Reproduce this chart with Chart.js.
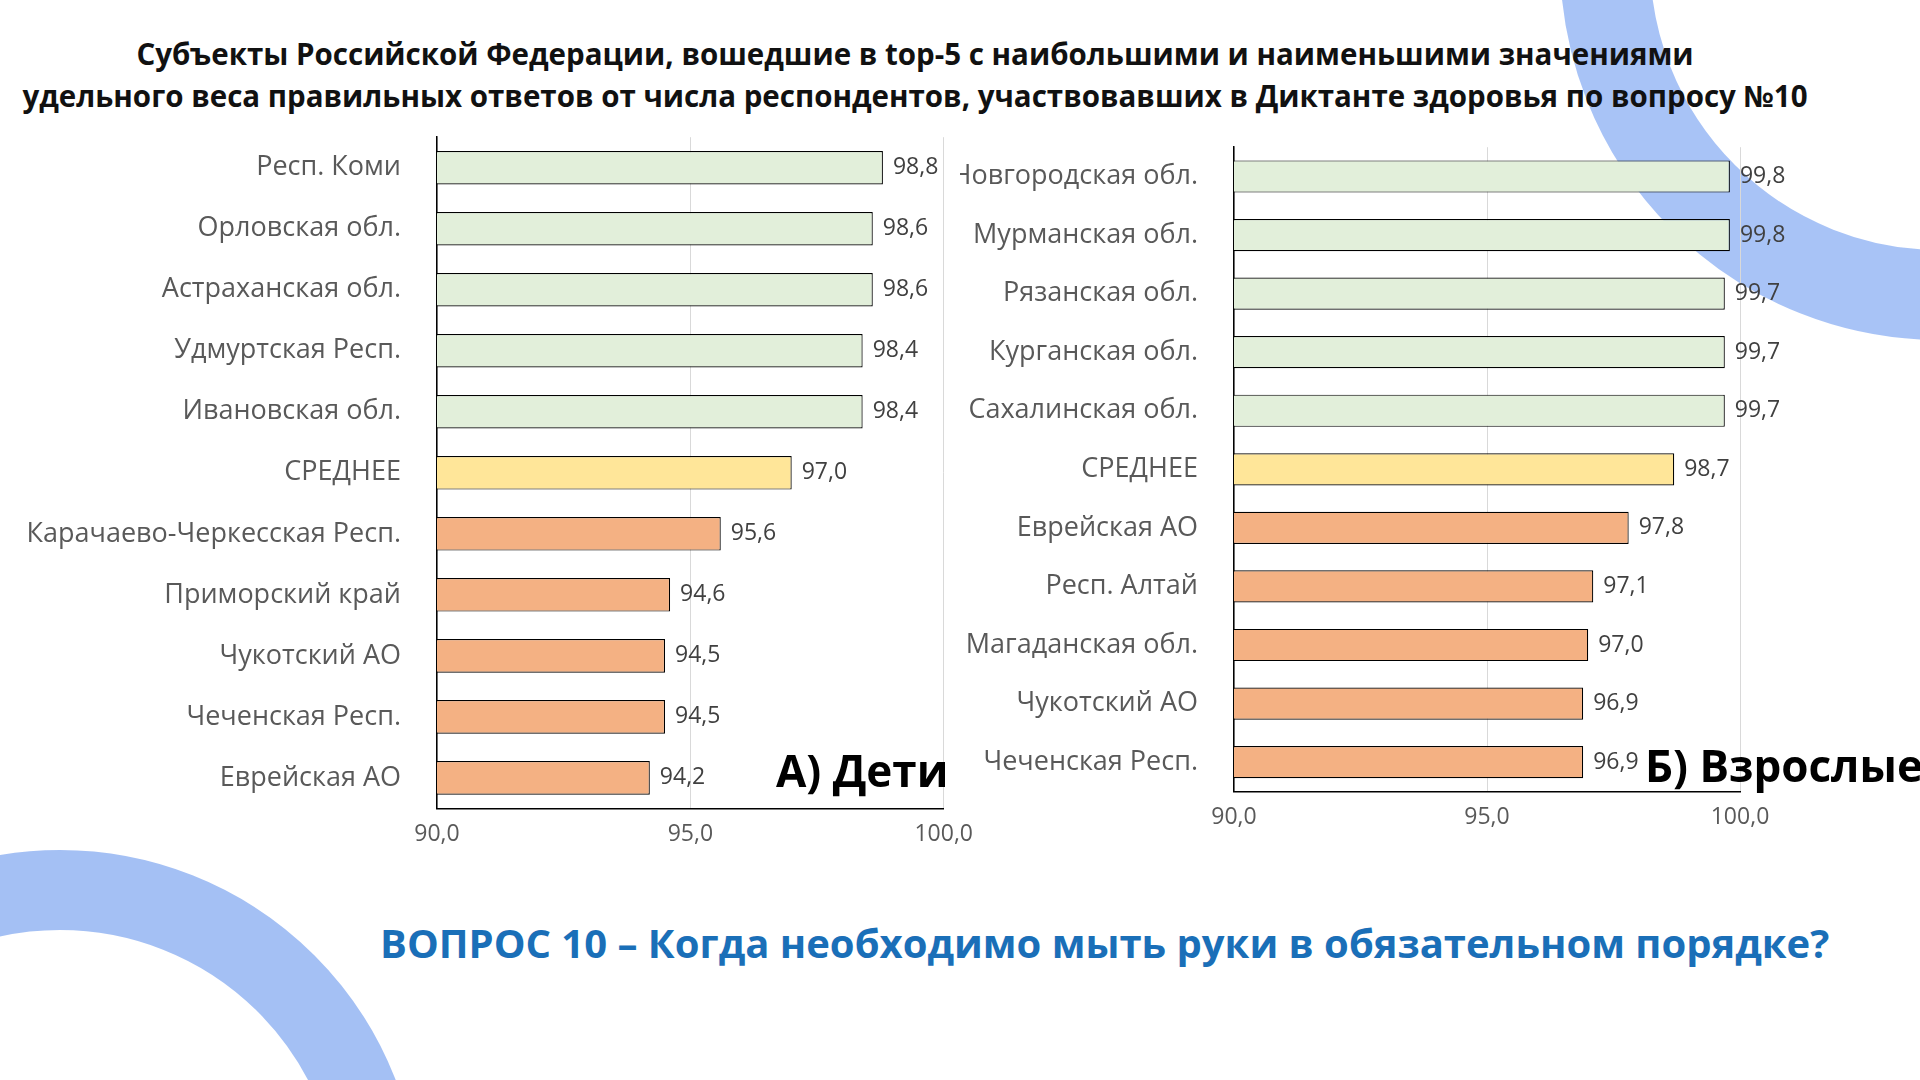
<!DOCTYPE html>
<html><head><meta charset="utf-8">
<script src="https://cdn.jsdelivr.net/npm/chart.js@4"></script>
<style>
body{margin:0;width:1920px;height:1080px;position:relative;overflow:hidden;background:#fff;font-family:"Open Sans",sans-serif}
.arc{position:absolute;border-radius:50%}
#title{position:absolute;left:0;top:33px;width:1830px;text-align:center;font-weight:bold;font-size:29.5px;line-height:42px;color:#111}
#q{position:absolute;left:380px;top:915px;font-weight:bold;font-size:40px;color:#1a6fb8;white-space:nowrap}
.box{position:absolute}
.tag{position:absolute;font-weight:bold;font-size:44px;color:#000;white-space:nowrap}
</style></head><body>
<div class="arc" style="left:1560px;top:-420px;width:760px;height:760px;border:90px solid rgba(110,155,240,0.6);box-sizing:border-box"></div>
<div class="arc" style="left:-300px;top:850px;width:720px;height:720px;border:80px solid rgba(90,140,235,0.55);box-sizing:border-box"></div>
<div id="title">Субъекты Российской Федерации, вошедшие в  top-5 с наибольшими и наименьшими значениями<br>удельного веса правильных ответов от числа респондентов, участвовавших в Диктанте здоровья по вопросу №10</div>
<div class="box" style="left:10px;top:93px;width:975px;height:767px"><canvas id="c1"></canvas></div>
<div class="box" style="left:960px;top:103px;width:860px;height:740px"><canvas id="c2"></canvas></div>
<div class="tag" style="left:776px;top:740px">А) Дети</div>
<div class="tag" style="left:1645px;top:735px">Б) Взрослые</div>
<div id="q">ВОПРОС 10 – Когда необходимо мыть руки в обязательном порядке?</div>
<script>
const kidsLabels = ["Респ. Коми","Орловская обл.","Астраханская обл.","Удмуртская Респ.","Ивановская обл.","СРЕДНЕЕ","Карачаево-Черкесская Респ.","Приморский край","Чукотский АО","Чеченская Респ.","Еврейская АО"];
const kidsValues = [98.8,98.6,98.6,98.4,98.4,97.0,95.6,94.6,94.5,94.5,94.2];
const adultLabels = ["Новгородская обл.","Мурманская обл.","Рязанская обл.","Курганская обл.","Сахалинская обл.","СРЕДНЕЕ","Еврейская АО","Респ. Алтай","Магаданская обл.","Чукотский АО","Чеченская Респ."];
const adultValues = [99.8,99.8,99.7,99.7,99.7,98.7,97.8,97.1,97.0,96.9,96.9];
const xTicks = [90,95,100];

const colors = i => i < 5 ? "#e2efda" : (i === 5 ? "#ffe699" : "#f4b183");
const fmt = v => v.toFixed(1).replace(".", ",");

const valueLabels = {
  id: "valueLabels",
  afterDatasetsDraw(chart) {
    const ctx = chart.ctx;
    ctx.save();
    ctx.font = "23px 'Open Sans'";
    ctx.fillStyle = "#404040";
    ctx.textBaseline = "middle";
    chart.getDatasetMeta(0).data.forEach((bar, i) => {
      ctx.fillText(fmt(chart.data.datasets[0].data[i]), bar.x + 10, bar.y);
    });
    ctx.restore();
  }
};

function makeChart(id, labels, values, yWidth, pad) {
  new Chart(document.getElementById(id), {
    type: "bar",
    data: { labels, datasets: [{ data: values, backgroundColor: values.map((v, i) => colors(i)), borderColor: "#000", borderWidth: 1.2, borderSkipped: false, barPercentage: 0.55, categoryPercentage: 1 }] },
    options: {
      indexAxis: "y", responsive: true, maintainAspectRatio: false, animation: false,
      layout: { padding: pad },
      plugins: { legend: { display: false }, tooltip: { enabled: false } },
      scales: {
        x: {
          min: 90, max: 100, afterBuildTicks: a => { a.ticks = xTicks.map(v => ({ value: v })); },
          ticks: { callback: v => fmt(v), color: "#595959", font: { size: 23, family: "Open Sans" }, padding: 12 },
          grid: { color: "#d9d9d9", drawTicks: false },
          border: { color: "#000", width: 1.5 }
        },
        y: {
          afterFit: s => { s.width = yWidth; },
          ticks: { color: "#595959", font: { size: 27, family: "Open Sans" }, padding: 28 },
          grid: { display: false },
          border: { color: "#000", width: 1.5 }
        }
      }
    },
    plugins: [valueLabels]
  });
}
makeChart("c1", kidsLabels, kidsValues, 427, { top: 14, right: 3 });
makeChart("c2", adultLabels, adultValues, 274, { top: 13, right: 80 });
</script>
</body></html>
